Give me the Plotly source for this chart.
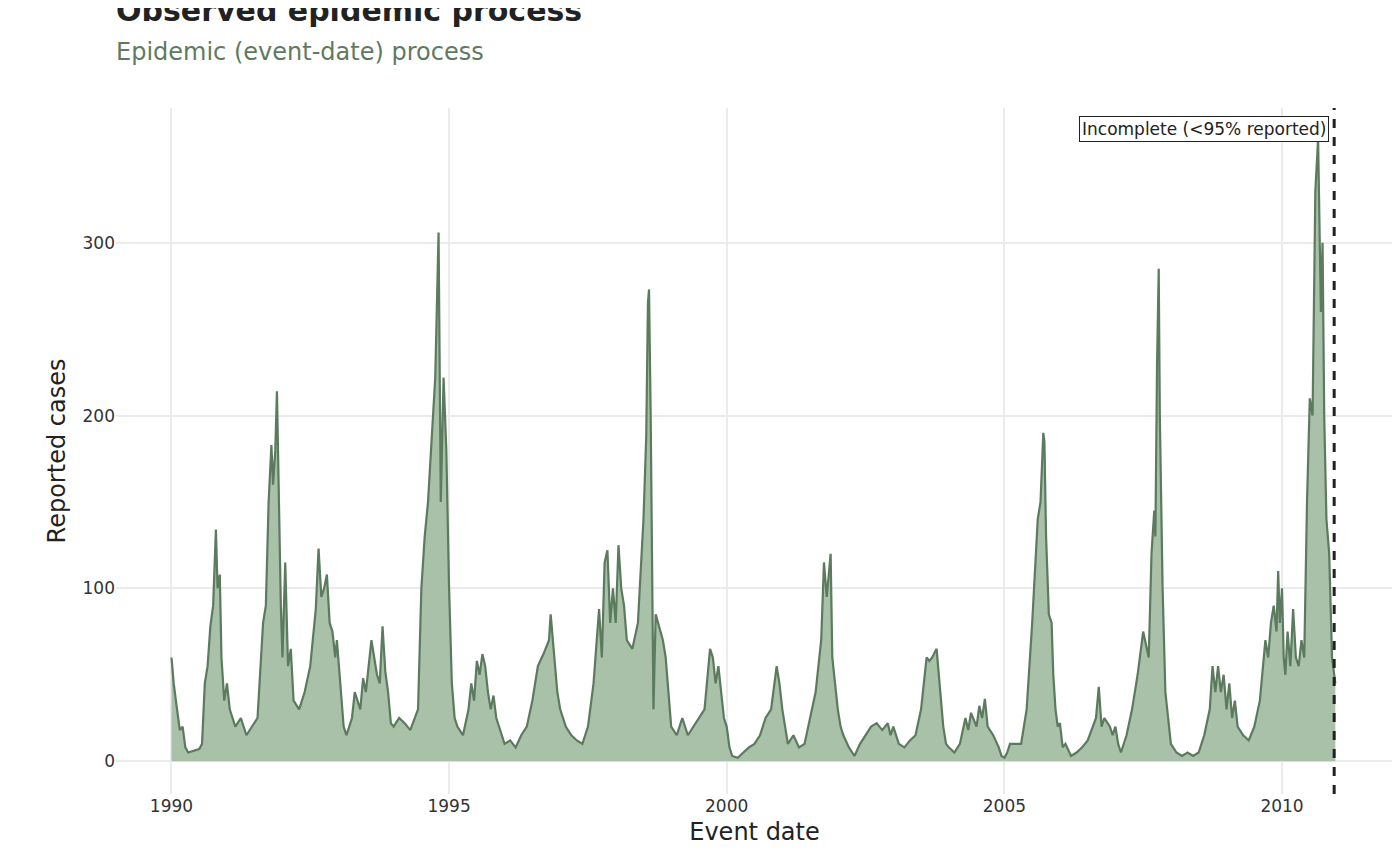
import pandas as pd
import plotly.graph_objects as go

# (decimal year, reported cases), year by year
t = [
    1990.0, 1990.04, 1990.1, 1990.15, 1990.2, 1990.25, 1990.3, 1990.4, 1990.5, 1990.55, 1990.6, 1990.65, 1990.7, 1990.75, 1990.8, 1990.83, 1990.87, 1990.9, 1990.95,
    1991.0, 1991.05, 1991.15, 1991.25, 1991.35, 1991.45, 1991.55, 1991.65, 1991.7, 1991.75, 1991.8, 1991.83, 1991.87, 1991.9, 1991.93, 1991.97,
    1992.0, 1992.05, 1992.1, 1992.15, 1992.2, 1992.3, 1992.4, 1992.5, 1992.6, 1992.65, 1992.7, 1992.75, 1992.8, 1992.85, 1992.9, 1992.95, 1992.98,
    1993.05, 1993.1, 1993.15, 1993.25, 1993.3, 1993.4, 1993.45, 1993.5, 1993.6, 1993.65, 1993.7, 1993.75, 1993.8, 1993.85, 1993.9, 1993.95,
    1994.0, 1994.1, 1994.2, 1994.3, 1994.44, 1994.5, 1994.56, 1994.62, 1994.69, 1994.75, 1994.81, 1994.85, 1994.9, 1994.95,
    1995.0, 1995.05, 1995.1, 1995.15, 1995.25, 1995.35, 1995.4, 1995.45, 1995.5, 1995.55, 1995.6, 1995.65, 1995.7, 1995.75, 1995.8, 1995.85, 1995.95,
    1996.0, 1996.1, 1996.2, 1996.3, 1996.4, 1996.5, 1996.6, 1996.7, 1996.8, 1996.83, 1996.9, 1996.95,
    1997.0, 1997.1, 1997.2, 1997.3, 1997.4, 1997.5, 1997.6, 1997.7, 1997.75, 1997.8, 1997.85, 1997.9, 1997.95,
    1998.0, 1998.05, 1998.1, 1998.15, 1998.2, 1998.3, 1998.4, 1998.5, 1998.55, 1998.58, 1998.6, 1998.63, 1998.66, 1998.68, 1998.72, 1998.8, 1998.85, 1998.9, 1998.95,
    1999.0, 1999.1, 1999.2, 1999.3, 1999.4, 1999.5, 1999.6, 1999.7, 1999.75, 1999.8, 1999.85, 1999.9, 1999.95,
    2000.0, 2000.05, 2000.1, 2000.2, 2000.3, 2000.4, 2000.5, 2000.6, 2000.7, 2000.8, 2000.9, 2000.95,
    2001.0, 2001.05, 2001.1, 2001.2, 2001.3, 2001.4, 2001.5, 2001.6, 2001.7, 2001.75, 2001.8, 2001.87, 2001.9, 2001.95,
    2002.0, 2002.05, 2002.1, 2002.2, 2002.3, 2002.4, 2002.5, 2002.6, 2002.7, 2002.8, 2002.9, 2002.95,
    2003.0, 2003.1, 2003.2, 2003.3, 2003.4, 2003.5, 2003.55, 2003.6, 2003.65, 2003.7, 2003.78, 2003.85, 2003.9, 2003.95,
    2004.0, 2004.1, 2004.2, 2004.3, 2004.35, 2004.4, 2004.5, 2004.55, 2004.6, 2004.65, 2004.7, 2004.8, 2004.9, 2004.95,
    2005.0, 2005.05, 2005.1, 2005.2, 2005.3, 2005.4, 2005.5, 2005.6, 2005.65, 2005.7, 2005.72, 2005.75, 2005.8, 2005.85, 2005.88, 2005.92, 2005.96,
    2006.0, 2006.05, 2006.1, 2006.2, 2006.3, 2006.4, 2006.5, 2006.6, 2006.65, 2006.7, 2006.75, 2006.8, 2006.9, 2006.95,
    2007.0, 2007.05, 2007.1, 2007.2, 2007.3, 2007.4, 2007.5, 2007.6, 2007.65, 2007.7, 2007.72, 2007.75, 2007.78, 2007.8, 2007.85, 2007.9, 2007.95,
    2008.0, 2008.1, 2008.2, 2008.3, 2008.4, 2008.5, 2008.6, 2008.7, 2008.75, 2008.8, 2008.85, 2008.9, 2008.95,
    2009.0, 2009.05, 2009.1, 2009.15, 2009.2, 2009.3, 2009.4, 2009.5, 2009.6, 2009.7, 2009.75, 2009.8, 2009.85, 2009.9, 2009.93, 2009.96,
    2010.0, 2010.03, 2010.06, 2010.1, 2010.15, 2010.2, 2010.25, 2010.3, 2010.35, 2010.4, 2010.45, 2010.5, 2010.55, 2010.6, 2010.65, 2010.68, 2010.7, 2010.73, 2010.76, 2010.8, 2010.85, 2010.9, 2010.96,
]
cases = [
    60, 45, 30, 18, 20, 8, 5, 6, 7, 10, 45, 55, 78, 90, 134, 100, 108, 60, 35,
    45, 30, 20, 25, 15, 20, 25, 80, 90, 150, 183, 160, 180, 214, 150, 90,
    60, 115, 55, 65, 35, 30, 40, 55, 88, 123, 95, 100, 108, 80, 75, 60, 70,
    40, 20, 15, 25, 40, 30, 48, 40, 70, 60, 50, 45, 78, 52, 40, 22,
    20, 25, 22, 18, 30, 100, 130, 150, 187, 222, 306, 150, 222, 180,
    100, 45, 25, 20, 15, 30, 45, 35, 58, 50, 62, 55, 40, 30, 38, 25, 15,
    10, 12, 8, 15, 20, 35, 55, 62, 70, 85, 60, 40,
    30, 20, 15, 12, 10, 20, 45, 88, 60, 115, 122, 80, 100,
    80, 125, 100, 90, 70, 65, 80, 140, 188, 265, 273, 200, 100, 30, 85, 75, 70, 60, 40,
    20, 15, 25, 15, 20, 25, 30, 65, 60, 45, 55, 40, 25,
    20, 8, 3, 2, 5, 8, 10, 15, 25, 30, 55, 45,
    30, 20, 10, 15, 8, 10, 25, 40, 70, 115, 95, 120, 60, 45,
    30, 20, 15, 8, 3, 10, 15, 20, 22, 18, 22, 15,
    20, 10, 8, 12, 15, 30, 45, 60, 58, 60, 65, 40, 20, 10,
    8, 5, 10, 25, 18, 28, 20, 32, 25, 36, 20, 15, 8, 3,
    2, 5, 10, 10, 10, 30, 80, 140, 150, 190, 185, 130, 85, 80, 50, 30, 20,
    22, 8, 10, 3, 5, 8, 12, 20, 25, 43, 20, 25, 20, 15,
    20, 10, 5, 15, 30, 50, 75, 60, 120, 145, 130, 230, 285, 200, 100, 40, 25,
    10, 5, 3, 5, 3, 5, 15, 30, 55, 40, 55, 40, 50,
    30, 45, 25, 35, 20, 15, 12, 20, 35, 70, 60, 80, 90, 75, 110, 80,
    100, 60, 50, 75, 55, 88, 60, 55, 70, 60, 150, 210, 200, 330, 360, 300, 260, 300, 200, 140, 120, 60, 45,
]
cutoff_date = "2010-12-10"
x_ticks = ["1990-01-01", "1995-01-01", "2000-01-01", "2005-01-01", "2010-01-01"]
x_labels = ["1990", "1995", "2000", "2005", "2010"]


def to_date(y):
    yr = int(y)
    return pd.Timestamp(yr, 1, 1) + pd.Timedelta(days=(y - yr) * 365.25)


dates = [to_date(v) for v in t]

fig = go.Figure()
fig.add_trace(go.Scatter(
    x=dates, y=cases, mode="lines",
    line=dict(color="#5b7a5e", width=2.2),
    fill="tozeroy", fillcolor="#a9c0a9",
    showlegend=False,
))

fig.add_shape(type="line", x0=cutoff_date, x1=cutoff_date, y0=0, y1=1, yref="paper",
              line=dict(color="#222222", width=3, dash="dash"))
fig.add_annotation(x=cutoff_date, y=366, text="Incomplete (<95% reported)",
                   showarrow=False, xanchor="right", xshift=-5,
                   font=dict(size=17, color="#222222"),
                   bgcolor="white", bordercolor="#222222", borderwidth=1, borderpad=2)

fig.update_layout(
    width=1400, height=866,
    paper_bgcolor="white", plot_bgcolor="white",
    font=dict(family="DejaVu Sans", color="#222222"),
    title=dict(
        text="<b>Observed epidemic process</b><br><span style='font-size:24px;color:#5f7a60'>Epidemic (event-date) process</span>",
        x=0, xref="paper", y=0.985, yanchor="top", font=dict(size=30, color="#222222"),
    ),
    margin=dict(l=108, r=15, t=100, b=80),
    xaxis=dict(
        title=dict(text="Event date", font=dict(size=24), standoff=8),
        range=["1989-01-01", "2012-01-01"],
        tickvals=x_ticks, ticktext=x_labels,
        tickfont=dict(size=17, color="#333333"),
        showgrid=True, gridcolor="#ebebeb", gridwidth=2, zeroline=False,
    ),
    yaxis=dict(
        title=dict(text="Reported cases", font=dict(size=24), standoff=10),
        range=[-19, 378],
        tickvals=[0, 100, 200, 300],
        tickfont=dict(size=17, color="#333333"),
        showgrid=True, gridcolor="#ebebeb", gridwidth=2, zeroline=False,
    ),
)

fig.write_html("out.html")
